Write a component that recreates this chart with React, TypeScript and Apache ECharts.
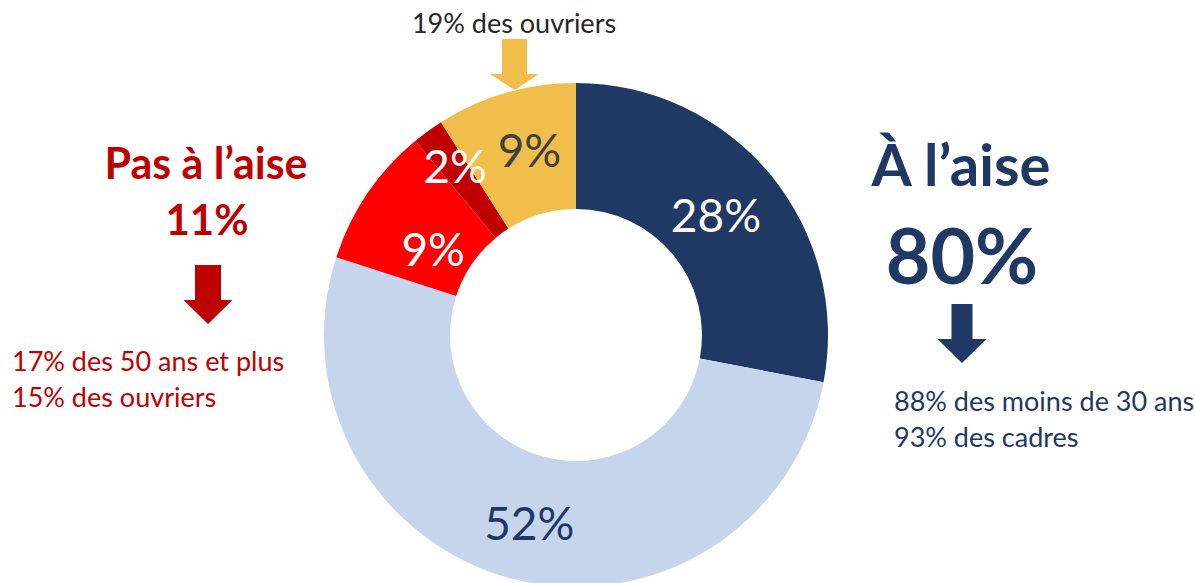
import React, { useEffect, useRef } from "react";
import * as echarts from "echarts";

const categories = ["Très à l'aise", "Plutôt à l'aise", "Plutôt pas à l'aise", "Pas du tout à l'aise", "Ne sait pas"];
const values = [28, 52, 9, 2, 9];
const sliceColors = ["#1F3864", "#C5D5EC", "#FF0000", "#C00000", "#F1BE4B"];
const labelColors = ["#FFFFFF", "#1F3864", "#FFFFFF", "#FFFFFF", "#404040"];
const labelShift = [[-8, 2], [1, 2], [16, 21], [-8, -14], [7, -1]];

const FONT = "Lato, 'Open Sans', sans-serif";
const NAVY = "#1F3864";
const RED = "#C00000";
const YELLOW = "#F1BE4B";

function arrow(cx: number, top: number, shaftW: number, headTop: number, headW: number, tip: number, color: string) {
  return {
    type: "polygon",
    shape: {
      points: [
        [cx - shaftW / 2, top],
        [cx + shaftW / 2, top],
        [cx + shaftW / 2, headTop],
        [cx + headW / 2, headTop],
        [cx, tip],
        [cx - headW / 2, headTop],
        [cx - shaftW / 2, headTop],
      ],
    },
    style: { fill: color },
    silent: true,
  };
}

function txt(x: number, y: number, text: string, size: number, color: string, bold: boolean, align = "center") {
  return {
    type: "text",
    x,
    y,
    style: {
      text,
      fontSize: size,
      fontFamily: FONT,
      fontWeight: bold ? "bold" : "normal",
      fill: color,
      textAlign: align,
      textVerticalAlign: "middle",
    },
    silent: true,
  };
}

export default function App() {
  const ref = useRef<HTMLDivElement>(null);
  useEffect(() => {
    document.body.style.margin = "0";
    const chart = echarts.init(ref.current!, null, { renderer: "svg" });
    chart.setOption({
      animation: false,
      backgroundColor: "#FFFFFF",
      series: [
        {
          type: "pie",
          center: [576, 335],
          radius: [126, 252],
          startAngle: 90,
          clockwise: true,
          avoidLabelOverlap: false,
          emphasis: { disabled: true },
          itemStyle: { borderWidth: 0 },
          label: {
            show: true,
            position: "inside",
            formatter: "{c}%",
            fontSize: 46,
            fontFamily: FONT,
          },
          labelLine: { show: false },
          labelLayout: (p: any) => ({ dx: labelShift[p.dataIndex][0], dy: labelShift[p.dataIndex][1] }),
          data: categories.map((name, i) => ({
            name,
            value: values[i],
            itemStyle: { color: sliceColors[i] },
            label: { color: labelColors[i] },
          })),
        },
      ],
      graphic: [
        txt(514, 22, "19% des ouvriers", 27, "#262626", false),
        arrow(514.5, 39, 25, 74, 49, 90, YELLOW),
        txt(206, 162, "Pas à l\u2019aise", 43, RED, true),
        txt(207, 219, "11%", 42, RED, true),
        arrow(208, 265, 26, 300, 49, 324, RED),
        txt(12, 360, "17% des 50 ans et plus", 27, RED, false, "left"),
        txt(12, 396, "15% des ouvriers", 27, RED, false, "left"),
        txt(961, 163, "\u00C0 l\u2019aise", 58, NAVY, true),
        txt(962, 254, "80%", 77, NAVY, true),
        arrow(962, 304, 21, 339, 49, 363, NAVY),
        txt(894, 400, "88% des moins de 30 ans", 27, NAVY, false, "left"),
        txt(894, 436, "93% des cadres", 27, NAVY, false, "left"),
      ],
    });
    return () => chart.dispose();
  }, []);
  return <div ref={ref} style={{ width: 1195, height: 583 }} />;
}
